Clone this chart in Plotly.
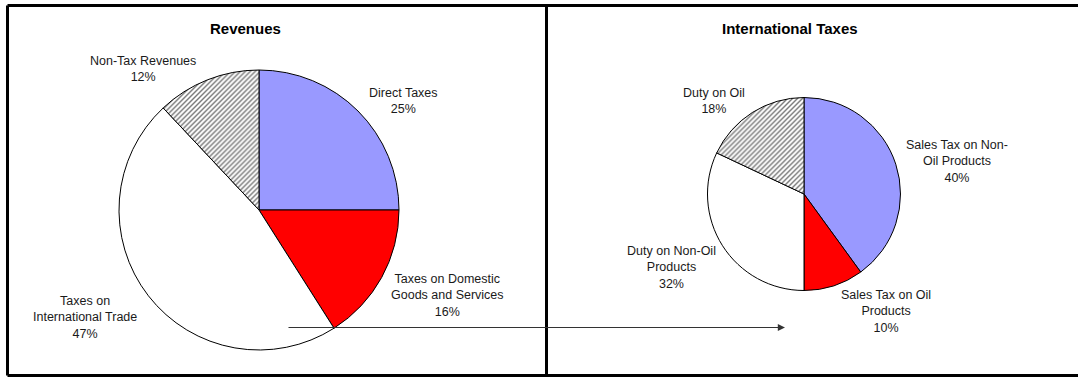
import plotly.graph_objects as go

W, H = 1078, 377

rev_labels = ["Direct Taxes", "Taxes on Domestic Goods and Services",
              "Taxes on International Trade", "Non-Tax Revenues"]
rev_values = [25, 16, 47, 12]

intl_labels = ["Sales Tax on Non-Oil Products", "Sales Tax on Oil Products",
               "Duty on Non-Oil Products", "Duty on Oil"]
intl_values = [40, 10, 32, 18]

colors = ["#9999FF", "#FF0000", "#FFFFFF", "#FFFFFF"]
patterns = ["", "", "", "/"]

# label text (line-broken as in the reference) and pixel anchor (centre x, first-line centre y)
rev_text = ["Direct Taxes<br>25%", "Taxes on Domestic<br>Goods and Services<br>16%",
            "Taxes on<br>International Trade<br>47%", "Non-Tax Revenues<br>12%"]
rev_pos = [(403, 92), (447, 278), (85, 300), (143, 60)]
intl_text = ["Sales Tax on Non-<br>Oil Products<br>40%", "Sales Tax on Oil<br>Products<br>10%",
             "Duty on Non-Oil<br>Products<br>32%", "Duty on Oil<br>18%"]
intl_pos = [(957, 144), (886, 294), (671, 250), (714, 92)]


def px_x(x):
    return x / W


def px_y(y):
    return 1 - y / H


def pie(labels, values, cx, cy, d):
    return go.Pie(
        labels=labels, values=values, sort=False, direction="clockwise", rotation=0,
        textinfo="none", hoverinfo="label+percent", showlegend=False,
        marker=dict(colors=colors, line=dict(color="black", width=1),
                    pattern=dict(shape=patterns, fgcolor="#777777", bgcolor="white",
                                 size=3.5, solidity=0.4)),
        domain=dict(x=[px_x(cx - d / 2), px_x(cx + d / 2)],
                    y=[px_y(cy + d / 2), px_y(cy - d / 2)]),
    )


fig = go.Figure()
fig.add_trace(pie(rev_labels, rev_values, 259, 210, 280))
fig.add_trace(pie(intl_labels, intl_values, 804, 194, 193))

font = dict(family="Liberation Sans, Arial, sans-serif", size=12.5, color="#1a1a1a")
ann = []
for t, (x, y) in list(zip(rev_text, rev_pos)) + list(zip(intl_text, intl_pos)):
    ann.append(dict(text=t, x=px_x(x), y=px_y(y - 8), xref="paper", yref="paper",
                    xanchor="center", yanchor="top", showarrow=False, font=font,
                    align="center"))
for t, x in [("<b>Revenues</b>", 245), ("<b>International Taxes</b>", 790)]:
    ann.append(dict(text=t, x=px_x(x), y=px_y(28), xref="paper", yref="paper",
                    xanchor="center", yanchor="middle", showarrow=False,
                    font=dict(family="Liberation Sans, Arial, sans-serif", size=15,
                              color="black")))
# connecting arrow
ann.append(dict(x=px_x(785), y=px_y(327.5), xref="paper", yref="paper",
                ax=-(785 - 287), ay=0, text="", showarrow=True, arrowhead=2,
                arrowsize=1.2, arrowwidth=1.2, arrowcolor="#333333"))

shapes = []
lw = 3
for x0, y0, x1, y1 in [(7.5, 5.5, W + 2, 5.5), (7.5, 5.5, 7.5, 375.5),
                       (7.5, 375.5, W + 2, 375.5), (546.5, 5.5, 546.5, 375.5)]:
    shapes.append(dict(type="line", xref="paper", yref="paper",
                       x0=px_x(x0), y0=px_y(y0), x1=px_x(x1), y1=px_y(y1),
                       line=dict(color="black", width=lw)))

fig.update_layout(width=W, height=H, margin=dict(l=0, r=0, t=0, b=0),
                  paper_bgcolor="white", plot_bgcolor="white",
                  annotations=ann, shapes=shapes)
fig.write_html("out.html")
